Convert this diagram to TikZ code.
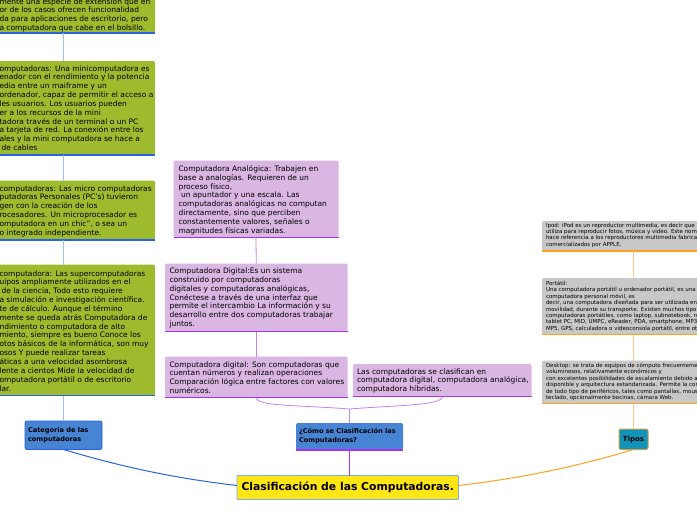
\documentclass[tikz,border=0pt]{standalone}
\usepackage{fontspec}
\setmainfont{DejaVu Sans}
\definecolor{gfill}{RGB}{157,187,45}
\definecolor{glinec}{RGB}{40,100,230}
\definecolor{gconnc}{RGB}{160,190,245}
\definecolor{pfill}{RGB}{218,182,226}
\definecolor{plinec}{RGB}{165,50,240}
\definecolor{pconnc}{RGB}{195,130,245}
\definecolor{grfill}{RGB}{200,200,200}
\definecolor{olinec}{RGB}{255,160,30}
\definecolor{oconnc}{RGB}{255,200,130}
\definecolor{bfill}{RGB}{72,132,212}
\definecolor{bborder}{RGB}{40,95,225}
\definecolor{tfill}{RGB}{18,148,185}
\definecolor{tborder}{RGB}{205,160,80}
\definecolor{yfill}{RGB}{255,230,20}
\definecolor{yborder}{RGB}{120,175,225}
\begin{document}
\begin{tikzpicture}[x=1pt,y=-1pt,
  box/.style={inner sep=0pt, outer sep=0pt, rounded corners=2pt, anchor=north west},
  gbox/.style={box, fill=gfill},
  pbox/.style={box, fill=pfill},
  grbox/.style={box, fill=grfill},
  txt/.style={inner sep=0pt, outer sep=0pt, anchor=north west, align=left, font=\fontsize{7.5}{8.85}\selectfont},
  smalltxt/.style={txt, font=\fontsize{5.5}{6.4}\selectfont},
  gline/.style={draw=glinec, line width=1.5pt},
  pline/.style={draw=plinec, line width=1.5pt},
  oline/.style={draw=olinec, line width=1.5pt},
  gconn/.style={draw=gconnc, line width=0.8pt},
  pconn/.style={draw=pconnc, line width=0.8pt},
  oconn/.style={draw=oconnc, line width=0.8pt},
  bluebox/.style={box, fill=bfill, align=left, font=\bfseries\fontsize{6.6}{9}\selectfont, inner xsep=3pt},
]
\path[use as bounding box, fill=white] (0,0) rectangle (697,520);
\clip (0,0) rectangle (697,520);

% ---------- green column ----------
\node[gbox, minimum width=165pt, minimum height=43pt] (g1) at (-10,-10) {};
\node[gbox, minimum width=165pt, minimum height=94pt] (g2) at (-10,61) {};
\node[gbox, minimum width=165pt, minimum height=59.5pt] (g3) at (-10,180.5) {};
\node[gbox, minimum width=165pt, minimum height=131pt] (g4) at (-10,264.5) {};
\foreach \b in {g1,g2,g3,g4}{\draw[gline] (\b.south west) -- (\b.south east);}

\node[txt] (g1t) at (-0.5,-2) {mente una especie de extensión que en\\
or de los casos ofrecen funcionalidad\\
da para aplicaciones de escritorio, pero\\
a computadora que cabe en el bolsillo.};
\node[txt] (g2t) at (-0.5,65.3) {omputadoras: Una minicomputadora es\\
enador con el rendimiento y la potencia\\
edia entre un maiframe y un\\
ordenador, capaz de permitir el acceso a\\
les usuarios. Los usuarios pueden\\
er a los recursos de la mini\\
tadora través de un terminal o un PC\\
a tarjeta de red. La conexión entre los\\
ales y la mini computadora se hace a\\
\hspace*{2pt}de cables};
\node[txt] (g3t) at (-0.5,185.3) {computadoras: Las micro computadoras\\
putadoras Personales (PC's) tuvieron\\
gen con la creación de los\\
rocesadores. Un microprocesador es\\
omputadora en un chic", o sea un\\
o integrado independiente.};
\node[txt] (g4t) at (-0.5,270.3) {computadora: Las supercomputadoras\\
uipos ampliamente utilizados en el\\
\hspace*{2pt}de la ciencia, Todo esto requiere\\
a simulación e investigación científica.\\
te de cálculo. Aunque el término\\
mente se queda atrás Computadora de\\
ndimiento o computadora de alto\\
miento, siempre es bueno Conoce los\\
otos básicos de la informática, son muy\\
osos Y puede realizar tareas\\
áticas a una velocidad asombrosa\\
lente a cientos Mide la velocidad de\\
omputadora portátil o de escritorio\\
lar.};

% ---------- purple column ----------
\node[pbox, minimum width=165pt, minimum height=77pt] (pa) at (173.5,160.5) {};
\node[pbox, minimum width=182.5pt, minimum height=68pt] (pd) at (165,263.5) {};
\node[pbox, minimum width=182.5pt, minimum height=41pt] (pd2) at (165,356.5) {};
\node[pbox, minimum width=178.5pt, minimum height=32.5pt] (pl) at (353,364) {};
\foreach \b in {pa,pd,pd2,pl}{\draw[pline] (\b.south west) -- (\b.south east);}

\node[txt] (pat) at (178.5,165.3) {Computadora Analógica: Trabajen en\\
base a analogías. Requieren de un\\
proceso físico,\\
\hspace*{2.5pt}un apuntador y una escala. Las\\
computadoras analógicas no computan\\
directamente, sino que perciben\\
constantemente valores, señales o\\
magnitudes físicas variadas.};
\node[txt] (pdt) at (169.5,267.8) {Computadora Digital:Es un sistema\\
construido por computadoras\\
digitales y computadoras analógicas,\\
Conéctese a través de una interfaz que\\
permite el intercambio La información y su\\
desarrollo entre dos computadoras trabajar\\
juntos.};
\node[txt] (pd2t) at (169.5,361.3) {Computadora digital: Son computadoras que\\
cuentan números y realizan operaciones\\
Comparación lógica entre factores con valores\\
numéricos.};
\node[txt] (plt) at (357,368.3) {Las computadoras se clasifican en\\
computadora digital, computadora analógica,\\
computadora híbridas.};

% ---------- grey column ----------
\node[grbox, minimum width=180pt, minimum height=30pt] (ipod) at (542,221) {};
\node[grbox, minimum width=180pt, minimum height=56.5pt] (port) at (542,278) {};
\node[grbox, minimum width=180pt, minimum height=43pt] (desk) at (542,360.5) {};
\foreach \b in {ipod,port,desk}{\draw[oline] (\b.south west) -- (\b.south east);}

\node[smalltxt] (ipodt) at (546,223) {Ipod: iPod es un reproductor multimedia, es decir que\\
utiliza para reproducir fotos, música y video. Este nombre\\
hace referencia a los reproductores multimedia fabricados\\
comercializados por APPLE.};
\node[smalltxt] (portt) at (546,281) {Portátil:\\
Una computadora portátil u ordenador portátil, es una\\
computadora personal móvil, es\\
decir, una computadora diseñada para ser utilizada en\\
movilidad, durante su transporte. Existen muchos tipos de\\
computadoras portátiles, como laptop, subnotebook, netbook,\\
tablet PC, MID, UMPC, eReader, PDA, smartphone, MP3,\\
MP5, GPS, calculadora o videoconsola portátil, entre otros.};
\node[smalltxt] (deskt) at (546,363) {Desktop: se trata de equipos de cómputo frecuentemente\\
voluminosos, relativamente económicos y\\
con excelentes posibilidades de escalamiento debido al\\
disponible y arquitectura estandarizada. Permite la conexión\\
de todo tipo de periféricos, tales como pantallas, mouse,\\
teclado, opcionalmente bocinas, cámara Web.};

% ---------- main nodes ----------
\node[bluebox, draw=bborder, line width=0.8pt, text width=71pt, minimum width=77pt, minimum height=28.5pt] (cat) at (25,421) {Categoría de las\\computadoras};
\node[bluebox, text width=101pt, minimum width=107pt, minimum height=27pt] (como) at (296,423) {¿Cómo se Clasificación las\\Computadoras?};
\draw[pline] (como.south west) -- (como.south east);
\node[box, fill=tfill, draw=tborder, line width=1pt, minimum width=29pt, minimum height=20.5pt, font=\bfseries\fontsize{7}{8}\selectfont] (tipos) at (619,429) {Tipos};
\node[box, fill=yfill, draw=yborder, line width=0.8pt, rounded corners=1pt, minimum width=221.5pt, minimum height=24pt, font=\bfseries\fontsize{10.8}{12}\selectfont] (title) at (237,475.5) {Clasificación de las Computadoras.};

% ---------- connectors ----------
\draw[gconn] (g1.south -| cat.north) -- (g2.north -| cat.north);
\draw[gconn] (g2.south -| cat.north) -- (g3.north -| cat.north);
\draw[gconn] (g3.south -| cat.north) -- (g4.north -| cat.north);
\draw[gconn] (g4.south -| cat.north) -- (cat.north);

\draw[pconn] (pa.south) -- (pd.north);
\draw[pconn] (pd.south) -- (pd2.north);
\coordinate (m) at ([yshift=14pt]como.north);
\draw[pconn] (pd2.south) .. controls +(0,9) and +(-50,-4) .. (m);
\draw[pconn] (pl.south) .. controls +(0,9) and +(50,-4) .. (m);
\draw[pconn] (m) -- (como.north);

\draw[oconn] (ipod.south -| tipos.north) -- (port.north -| tipos.north);
\draw[oconn] (port.south -| tipos.north) -- (desk.north -| tipos.north);
\draw[oconn] (desk.south -| tipos.north) -- (tipos.north);

\draw[draw=glinec, line width=1pt] (cat.south) .. controls +(60,18) and +(-60,-7) .. ([yshift=2pt]title.west);
\draw[draw=olinec, line width=1pt] (tipos.south) .. controls +(-60,18) and +(60,-7) .. ([yshift=2pt]title.east);
\draw[draw=plinec, line width=0.8pt] (como.south) -- (como.south |- title.north);
\end{tikzpicture}
\end{document}
